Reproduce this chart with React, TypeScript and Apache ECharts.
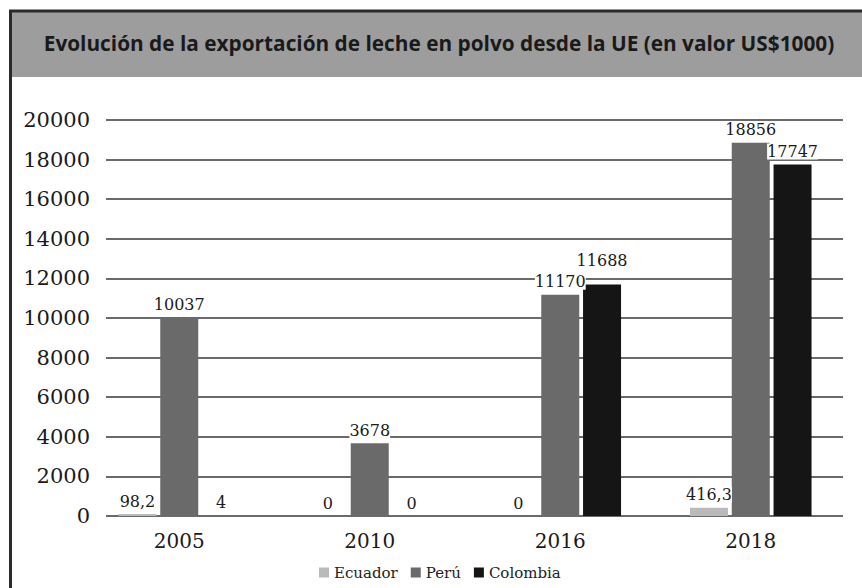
import React, { useEffect, useRef } from "react";
import * as echarts from "echarts";

const years = ["2005", "2010", "2016", "2018"];
const ecuador = [98.2, 0, 0, 416.3];
const peru = [10037, 3678, 11170, 18856];
const colombia = [4, 0, 11688, 17747];
const seriesNames = ["Ecuador", "Perú", "Colombia"];
const seriesColors = ["#bababa", "#6a6a6a", "#151515"];
const titleText = "Evolución de la exportación de leche en polvo desde la UE (en valor US$1000)";

const fmt = (v: number) => String(v).replace(".", ",");

export default function App() {
  const ref = useRef<HTMLDivElement>(null);
  useEffect(() => {
    document.body.style.margin = "0";
    const chart = echarts.init(ref.current!, null, { renderer: "svg" });
    const serif = "DejaVu Serif";
    const values = [ecuador, peru, colombia];
    // label nudges to avoid overlapping labels (series index, data index -> extra distance)
    const extraDistance: Record<string, number> = { "2-2": 11 };
    chart.setOption({
      animation: false,
      backgroundColor: "#ffffff",
      textStyle: { fontFamily: serif },
      graphic: [
        { type: "rect", shape: { x: 10, y: 11, width: 852, height: 66 }, style: { fill: "#9d9d9d" }, z: -1 },
        { type: "line", shape: { x1: 10.5, y1: 10, x2: 10.5, y2: 588 }, style: { stroke: "#2a2a2a", lineWidth: 3 } },
        { type: "line", shape: { x1: 9, y1: 11, x2: 862, y2: 11 }, style: { stroke: "#2a2a2a", lineWidth: 3 } },
        {
          type: "text",
          x: 439,
          y: 43,
          style: {
            text: titleText,
            fill: "#1a1a1a",
            font: "bold 20.8px 'Open Sans'",
            align: "center",
            verticalAlign: "middle",
          },
        },
      ],
      legend: {
        data: seriesNames,
        bottom: 3,
        left: 314,
        itemWidth: 10,
        itemHeight: 10,
        itemGap: 13,
        icon: "rect",
        textStyle: { fontFamily: serif, fontSize: 15, color: "#222" },
      },
      grid: [
        { left: 106, right: 19, top: 120, bottom: 72 },
        { left: 84, right: 16, top: 120, bottom: 72 },
      ],
      xAxis: [
        { type: "category", gridIndex: 0, data: years, show: false },
        {
          type: "category",
          gridIndex: 1,
          data: years,
          axisLine: { show: false },
          axisTick: { show: false },
          axisLabel: { fontFamily: serif, fontSize: 20, color: "#1a1a1a", margin: 15 },
        },
      ],
      yAxis: [
        {
          type: "value",
          gridIndex: 0,
          min: 0,
          max: 20000,
          interval: 2000,
          axisLine: { show: false },
          axisTick: { show: false },
          axisLabel: {
            fontFamily: serif,
            fontSize: 21,
            color: "#1a1a1a",
            margin: 16,
            formatter: (v: number) => String(v),
          },
          splitLine: { lineStyle: { color: "#6a6a6a", width: 2 } },
        },
        { type: "value", gridIndex: 1, min: 0, max: 20000, interval: 2000, show: false, splitLine: { show: false } },
      ],
      series: seriesNames.map((name, i) => ({
        name,
        type: "bar",
        xAxisIndex: 1,
        yAxisIndex: 1,
        data: values[i].map((v, j) => {
          const extra = extraDistance[`${i}-${j}`];
          return extra ? { value: v, label: { distance: 5 + extra } } : v;
        }),
        barWidth: 38,
        barGap: "10%",
        itemStyle: { color: seriesColors[i] },
        label: {
          show: true,
          position: "top",
          distance: 5,
          fontFamily: serif,
          fontSize: 16,
          color: "#1a1a1a",
          backgroundColor: "#ffffff",
          formatter: (p: any) => fmt(p.value),
        },
      })),
    });
    return () => chart.dispose();
  }, []);
  return <div ref={ref} style={{ width: 862, height: 588 }} />;
}
